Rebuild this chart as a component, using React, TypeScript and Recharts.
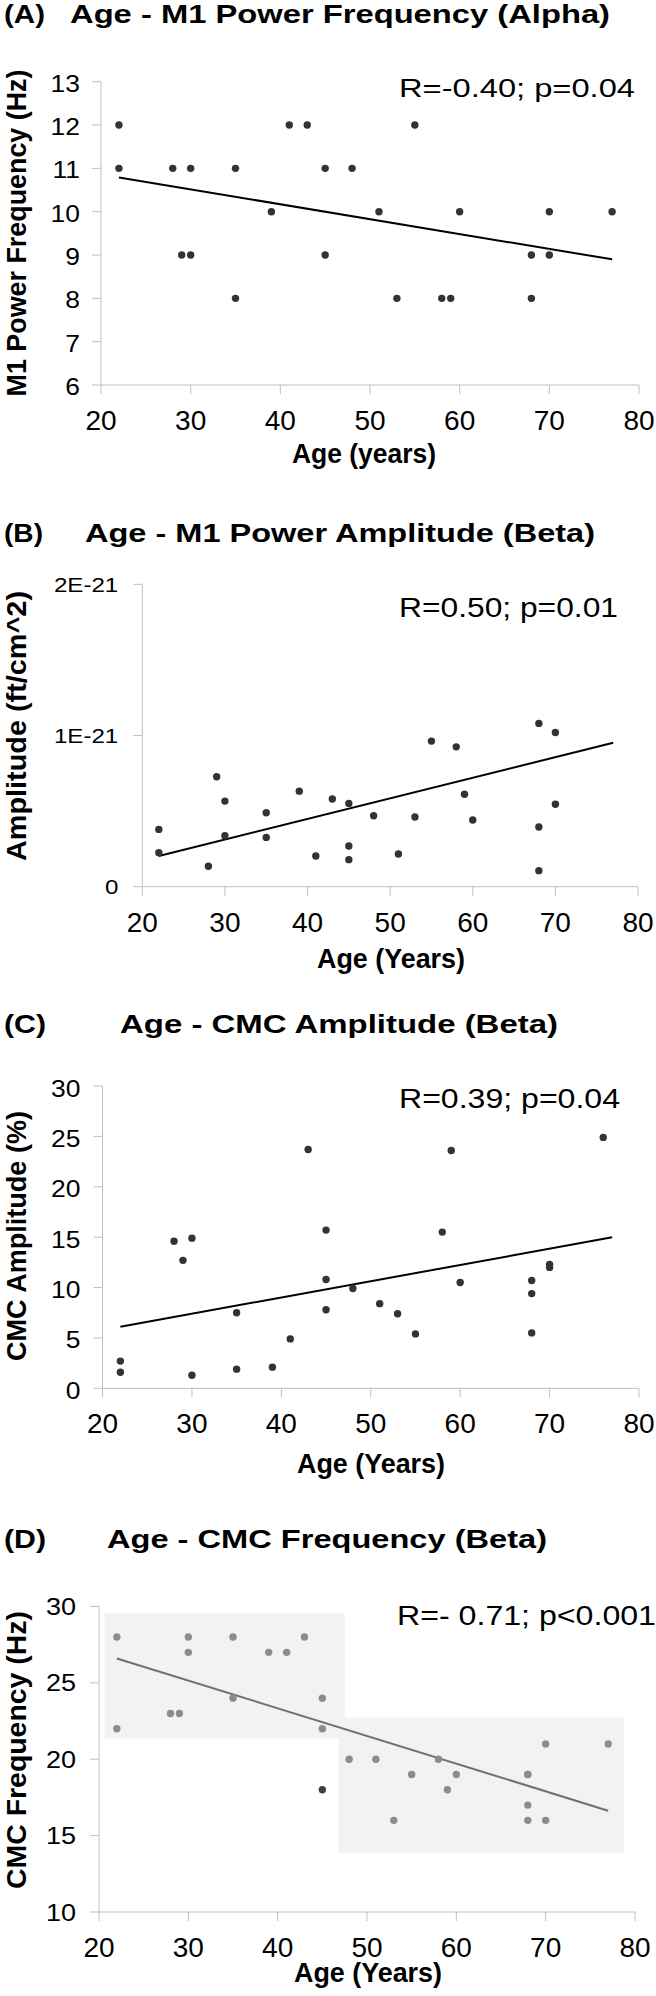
import React from "react";
import {
  ReferenceArea,
  ReferenceLine,
  Scatter,
  ScatterChart,
  XAxis,
  YAxis,
} from "recharts";

const FONT = '"Liberation Sans", Arial, sans-serif';
const AXIS_COLOR = "#bfbfbf";
const AGE_TICKS = [20, 30, 40, 50, 60, 70, 80];

// (A) Age vs M1 power frequency, alpha band (Hz)
const ageA = [22, 22, 28, 29, 30, 30, 35, 35, 39, 41, 43, 45, 45, 48, 51, 53, 55, 58, 59, 60, 68, 68, 70, 70, 77];
const freqA = [12, 11, 11, 9, 11, 9, 11, 8, 10, 12, 12, 11, 9, 11, 10, 8, 12, 8, 8, 10, 9, 8, 10, 9, 10];
const trendA = [{ x: 22, y: 10.79 }, { x: 77, y: 8.9 }];
const ticksA = [6, 7, 8, 9, 10, 11, 12, 13];

// (B) Age vs M1 power amplitude, beta band (ft/cm^2)
const ageB = [22, 22, 28, 29, 30, 30, 35, 35, 39, 41, 43, 45, 45, 45, 48, 51, 53, 55, 58, 59, 60, 68, 68, 68, 70, 70];
const ampB = [
  0.379e-21, 0.225e-21, 0.135e-21, 0.727e-21, 0.566e-21, 0.337e-21, 0.489e-21, 0.326e-21, 0.632e-21,
  0.203e-21, 0.58e-21, 0.551e-21, 0.269e-21, 0.179e-21, 0.469e-21, 0.216e-21, 0.461e-21, 0.963e-21,
  0.925e-21, 0.611e-21, 0.441e-21, 1.08e-21, 0.395e-21, 0.106e-21, 1.02e-21, 0.545e-21,
];
const trendB = [{ x: 22, y: 0.203e-21 }, { x: 77, y: 0.952e-21 }];
const ticksB = [0, 1e-21, 2e-21];

// (C) Age vs CMC amplitude, beta band (%)
const ageC = [22, 22, 28, 29, 30, 30, 35, 35, 39, 41, 43, 45, 45, 45, 48, 51, 53, 55, 58, 59, 60, 68, 68, 68, 70, 70, 76];
const cmcAmpC = [2.7, 1.6, 14.6, 12.7, 14.9, 1.3, 7.5, 1.9, 2.1, 4.9, 23.7, 15.7, 10.8, 7.8, 9.9, 8.4, 7.4, 5.4, 15.5, 23.6, 10.5, 10.7, 9.4, 5.5, 12.3, 12.0, 24.9];
const trendC = [{ x: 22, y: 6.11 }, { x: 77, y: 14.98 }];
const ticksC = [0, 5, 10, 15, 20, 25, 30];

// (D) Age vs CMC frequency, beta band (Hz)
const ageD = [22, 22, 28, 29, 30, 30, 35, 35, 39, 41, 43, 45, 45, 48, 51, 53, 55, 58, 59, 60, 68, 68, 68, 68, 70, 70, 77];
const cmcFreqD = [28, 22, 23, 23, 28, 27, 28, 24, 27, 27, 28, 24, 22, 20, 20, 16, 19, 20, 18, 19, 19, 17, 16, 19, 21, 16, 21];
const outlierAgeD = [45];
const outlierFreqD = [18];
const trendD = [{ x: 22, y: 26.6 }, { x: 77, y: 16.63 }];
const ticksD = [10, 15, 20, 25, 30];
// shaded groups: younger / older
const boxAgeD = [[20.6, 47.5], [46.8, 78.8]];
const boxFreqD = [[21.37, 29.55], [13.88, 22.72]];

const toPoints = (ages: number[], vals: number[]) => ages.map((age, i) => ({ age, v: vals[i] }));

const dot = (fill: string) => (p: any) => <circle cx={p.cx} cy={p.cy} r={3.7} fill={fill} />;

const expFormat = (v: number) => (v === 0 ? "0" : v.toExponential(0).toUpperCase());

function YTick(props: any) {
  const { x, y, payload, fontSize, dy, format } = props;
  return (
    <text
      transform={`translate(${x},${y + dy}) scale(1.15,1)`}
      textAnchor="end"
      fontSize={fontSize}
      fontFamily={FONT}
      fill="#000"
    >
      {format ? format(payload.value) : payload.value}
    </text>
  );
}

function XTick(props: any) {
  const { x, y, payload } = props;
  return (
    <text x={x} y={y + 36} textAnchor="middle" fontSize={28} fontFamily={FONT} fill="#000">
      {payload.value}
    </text>
  );
}

type PanelProps = {
  top: number;
  height: number;
  plot: { left: number; right: number; top: number; bottom: number };
  yWidth: number;
  yDomain: [number, number];
  yTicks: number[];
  yFont: number;
  yDy: number;
  yMargin: number;
  yFormat?: (v: number) => string;
  children: React.ReactNode;
};

function Panel({ top, height, plot, yWidth, yDomain, yTicks, yFont, yDy, yMargin, yFormat, children }: PanelProps) {
  const xHeight = 60;
  const margin = {
    top: plot.top - top,
    right: 656 - plot.right,
    bottom: top + height - plot.bottom - xHeight,
    left: plot.left - yWidth,
  };
  return (
    <div style={{ position: "absolute", left: 0, top, width: 656, height }}>
      <ScatterChart width={656} height={height} margin={margin}>
        <XAxis
          type="number"
          dataKey="age"
          domain={[20, 80]}
          ticks={AGE_TICKS}
          interval={0}
          height={xHeight}
          stroke={AXIS_COLOR}
          tickSize={9}
          tickMargin={0}
          tick={(p: any) => <XTick {...p} />}
        />
        <YAxis
          type="number"
          dataKey="v"
          domain={yDomain}
          ticks={yTicks}
          interval={0}
          width={yWidth}
          stroke={AXIS_COLOR}
          tickSize={9}
          tickMargin={yMargin}
          tick={(p: any) => <YTick {...p} fontSize={yFont} dy={yDy} format={yFormat} />}
        />
        {children}
      </ScatterChart>
    </div>
  );
}

function Txt({ x, y, len, size, bold, children }: any) {
  return (
    <text
      x={x}
      y={y}
      textLength={len}
      lengthAdjust="spacingAndGlyphs"
      fontSize={size}
      fontWeight={bold ? "bold" : "normal"}
      fontFamily={FONT}
      fill="#000"
    >
      {children}
    </text>
  );
}

function VTxt({ x, cy, len, children }: any) {
  return (
    <text
      transform={`translate(${x},${cy}) rotate(-90)`}
      x={-len / 2}
      y={0}
      textLength={len}
      lengthAdjust="spacingAndGlyphs"
      fontSize={27}
      fontWeight="bold"
      fontFamily={FONT}
      fill="#000"
    >
      {children}
    </text>
  );
}

export default function App() {
  const pointsA = toPoints(ageA, freqA);
  const pointsB = toPoints(ageB, ampB);
  const pointsC = toPoints(ageC, cmcAmpC);
  const pointsD = toPoints(ageD, cmcFreqD);
  const outlierD = toPoints(outlierAgeD, outlierFreqD);

  return (
    <div style={{ position: "absolute", left: 0, top: 0, width: 656, height: 1996, background: "#fff" }}>
      <Panel
        top={0}
        height={490}
        plot={{ left: 101, right: 639, top: 81.7, bottom: 385 }}
        yWidth={80}
        yDomain={[6, 13]}
        yTicks={ticksA}
        yFont={23}
        yDy={10}
        yMargin={12}
      >
        <ReferenceLine segment={trendA} stroke="#000" strokeWidth={2} />
        <Scatter data={pointsA} fill="#333" shape={dot("#333")} isAnimationActive={false} />
      </Panel>

      <Panel
        top={490}
        height={500}
        plot={{ left: 142.3, right: 638, top: 584.3, bottom: 886.7 }}
        yWidth={120}
        yDomain={[0, 2e-21]}
        yTicks={ticksB}
        yFont={21}
        yDy={7.5}
        yMargin={15}
        yFormat={expFormat}
      >
        <ReferenceLine segment={trendB} stroke="#000" strokeWidth={2} />
        <Scatter data={pointsB} fill="#333" shape={dot("#333")} isAnimationActive={false} />
      </Panel>

      <Panel
        top={990}
        height={500}
        plot={{ left: 102.5, right: 639, top: 1086, bottom: 1388.3 }}
        yWidth={80}
        yDomain={[0, 30]}
        yTicks={ticksC}
        yFont={23}
        yDy={10.5}
        yMargin={13}
      >
        <ReferenceLine segment={trendC} stroke="#000" strokeWidth={2} />
        <Scatter data={pointsC} fill="#333" shape={dot("#333")} isAnimationActive={false} />
      </Panel>

      <Panel
        top={1490}
        height={506}
        plot={{ left: 99, right: 635, top: 1606.5, bottom: 1912 }}
        yWidth={80}
        yDomain={[10, 30]}
        yTicks={ticksD}
        yFont={23.5}
        yDy={8.5}
        yMargin={14}
      >
        {boxAgeD.map((b, i) => (
          <ReferenceArea
            key={i}
            x1={b[0]}
            x2={b[1]}
            y1={boxFreqD[i][0]}
            y2={boxFreqD[i][1]}
            fill="#f2f2f2"
            fillOpacity={1}
            stroke="none"
          />
        ))}
        <ReferenceLine segment={trendD} stroke="#707070" strokeWidth={2} />
        <Scatter data={pointsD} fill="#8c8c8c" shape={dot("#8c8c8c")} isAnimationActive={false} />
        <Scatter data={outlierD} fill="#404040" shape={dot("#404040")} isAnimationActive={false} />
      </Panel>

      <svg
        width={656}
        height={1996}
        style={{ position: "absolute", left: 0, top: 0, pointerEvents: "none" }}
      >
        {/* panel titles */}
        <Txt x={4} y={23} len={41} size={26} bold>(A)</Txt>
        <Txt x={70} y={23} len={540} size={26} bold>Age - M1 Power Frequency (Alpha)</Txt>
        <Txt x={4} y={542} len={39} size={26} bold>(B)</Txt>
        <Txt x={85} y={542} len={510} size={26} bold>Age - M1 Power Amplitude (Beta)</Txt>
        <Txt x={4} y={1033} len={42} size={26} bold>(C)</Txt>
        <Txt x={120} y={1033} len={438} size={26} bold>Age - CMC Amplitude (Beta)</Txt>
        <Txt x={4} y={1548} len={42} size={26} bold>(D)</Txt>
        <Txt x={107} y={1548} len={440} size={26} bold>Age - CMC Frequency (Beta)</Txt>

        {/* correlation annotations */}
        <Txt x={399} y={97} len={236} size={26}>R=-0.40; p=0.04</Txt>
        <Txt x={399} y={617} len={219} size={27}>R=0.50; p=0.01</Txt>
        <Txt x={399} y={1108} len={221} size={27}>R=0.39; p=0.04</Txt>
        <Txt x={397} y={1625} len={259} size={27}>R=- 0.71; p&lt;0.001</Txt>

        {/* x axis titles */}
        <Txt x={364 - 72} y={463} len={144} size={28} bold>Age (years)</Txt>
        <Txt x={391 - 74} y={968} len={148} size={28} bold>Age (Years)</Txt>
        <Txt x={371 - 74} y={1473} len={148} size={28} bold>Age (Years)</Txt>
        <Txt x={368 - 74} y={1982} len={148} size={28} bold>Age (Years)</Txt>

        {/* y axis titles */}
        <VTxt x={25.5} cy={233} len={327}>M1 Power Frequency (Hz)</VTxt>
        <VTxt x={25.5} cy={726} len={270}>Amplitude (ft/cm^2)</VTxt>
        <VTxt x={25.5} cy={1236} len={250}>CMC Amplitude (%)</VTxt>
        <VTxt x={25.5} cy={1750} len={278}>CMC Frequency (Hz)</VTxt>
      </svg>
    </div>
  );
}
